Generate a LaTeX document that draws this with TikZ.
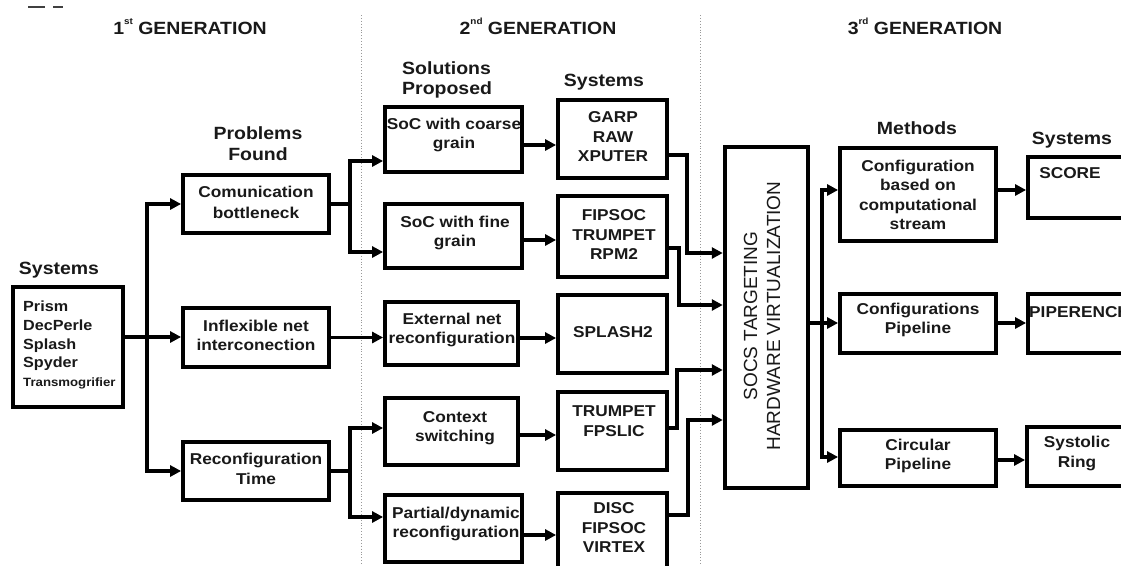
\documentclass[tikz,border=0pt]{standalone}
\usepackage{fontspec}
\setmainfont{Liberation Sans}[FakeStretch=1.1]
\newfontfamily\plainsans{Liberation Sans}
\usetikzlibrary{arrows.meta}

% box from its outer corners (x1,y1) (x2,y2), y measured downwards
\newcommand\boxnode[6][]{%
  \node[box,#1,minimum width={#5-#3},minimum height={#6-#4}] (#2)
    at ({(#3+#5)/2},{(#4+#6)/2}) {};}
\newcommand\supscr[1]{\raisebox{0.55em}{\fontsize{9}{9}\selectfont #1}}

\begin{document}
\begin{tikzpicture}[x=1pt,y=-1pt,
  box/.style={draw=black,fill=white,line width=3.8pt,inner sep=0pt},
  wire/.style={line width=3.3pt},
  conn/.style={wire,-{Triangle[length=11pt,width=11pt]}},
  boxtext/.style={font=\fontsize{15.7}{19.5}\selectfont\bfseries,align=center,inner sep=0pt,text=black!90},
  head/.style={font=\fontsize{17.7}{20.5}\selectfont\bfseries,align=center,inner sep=0pt,text=black!90},
  sep/.style={draw=gray!80,line width=0.9pt,dotted}]

\clip (0,0) rectangle (1121,565);
\fill[white] (0,0) rectangle (1121,565);

% small marks in the top left corner
\draw[line width=1.3pt,black!75] (28,7) -- (45,7) (53,7) -- (63,7);

% generation separators
\draw[sep] (361,15) -- (361,565);
\draw[sep] (700,15) -- (700,565);

% generation titles
\node[head,anchor=base] (gen1) at (190,34.5) {1\supscr{st} GENERATION};
\node[head,anchor=base] (gen2) at (538,34.5) {2\supscr{nd} GENERATION};
\node[head,anchor=base] (gen3) at (925,34) {3\supscr{rd} GENERATION};

% column headings
\node[head] (hsys1) at (59,270) {Systems};
\node[head] (hprob) at (258,143.5) {Problems\\Found};
\node[head,align=left,anchor=west] (hsol) at (402,80) {Solutions\\Proposed};
\node[head] (hsys2) at (604,82) {Systems};
\node[head] (hmeth) at (917,128) {Methods};
\node[head] (hsys3) at (1072,140) {Systems};

% boxes
\boxnode{sys}{13}{287}{123}{407}
\boxnode{comm}{183}{175}{329}{233}
\boxnode{infl}{183}{308}{329}{367}
\boxnode{reconf}{183}{442}{329}{500}
\boxnode{coarse}{385}{107}{522}{172}
\boxnode{fine}{385}{204}{522}{268}
\boxnode{ext}{385}{302}{518}{365}
\boxnode{ctx}{385}{398}{518}{465}
\boxnode{part}{385}{495}{522}{562}
\boxnode{garp}{558}{100}{667}{178}
\boxnode{fip}{558}{196}{667}{277}
\boxnode{spl}{558}{295}{667}{373}
\boxnode{tf}{558}{392}{667}{470}
\boxnode{disc}{558}{493}{667}{590}
\boxnode[line width=4.5pt]{socs}{725}{147}{808}{488}
\boxnode{cfg}{840}{148}{996}{241}
\boxnode{cpl}{840}{294}{996}{353}
\boxnode{circ}{840}{430}{996}{486}
\boxnode{score}{1028}{157}{1150}{218}
\boxnode{pip}{1028}{294}{1150}{353}
\boxnode{syst}{1027}{427}{1150}{486}

% box texts
\node[boxtext,align=left,anchor=west,font=\fontsize{14.7}{18.8}\selectfont\bfseries] (sys-t) at (23,345)
  {Prism\\DecPerle\\Splash\\Spyder\\{\fontsize{12}{14}\selectfont Transmogrifier}};
\node[boxtext] (comm-t) at (256,202.5) {Comunication\\[1.5pt]bottleneck};
\node[boxtext] (infl-t) at (256,335.5) {Inflexible net\\interconection};
\node[boxtext] (reconf-t) at (256,469) {Reconfiguration\\Time};
\node[boxtext] (coarse-t) at (454,135) {SoC with coarse\\grain};
\node[boxtext] (fine-t) at (455,233) {SoC with fine\\grain};
\node[boxtext] (ext-t) at (452,330) {External net\\reconfiguration};
\node[boxtext] (ctx-t) at (455,428) {Context\\switching};
\node[boxtext] (part-t) at (456,524) {Partial/dynamic\\reconfiguration};
\node[boxtext] (garp-t) at (613,137) {GARP\\RAW\\XPUTER};
\node[boxtext] (fip-t) at (614,235) {FIPSOC\\TRUMPET\\RPM2};
\node[boxtext] (spl-t) at (613,332) {SPLASH2};
\node[boxtext] (tf-t) at (614,421) {TRUMPET\\FPSLIC};
\node[boxtext] (disc-t) at (614,528) {DISC\\FIPSOC\\VIRTEX};
\node[rotate=90,align=center,inner sep=0pt,text=black!90,
      font=\plainsans\fontsize{19}{23}\selectfont] (socs-t) at (762,316)
  {SOCS TARGETING\\HARDWARE VIRTUALIZATION};
\node[boxtext] (cfg-t) at (918,195) {Configuration\\based on\\computational\\stream};
\node[boxtext] (cpl-t) at (918,320) {Configurations\\Pipeline};
\node[boxtext] (circ-t) at (918,456) {Circular\\Pipeline};
\node[boxtext] (score-t) at (1070,173) {SCORE};
\node[boxtext,anchor=west] (pip-t) at (1029,312) {PIPERENCH};
\node[boxtext] (syst-t) at (1077,453.5) {Systolic\\Ring};

% first generation: systems to problems
\coordinate (j1) at (147,337);
\draw[conn] (sys.east |- j1) -- (infl.west |- j1);
\draw[conn] (j1) |- (comm.west);
\draw[conn] (j1) |- (reconf.west);

% problems to proposed solutions
\coordinate (j2) at (350,204);
\draw[wire] (comm.east) -- (j2);
\draw[conn] (j2) |- (coarse.west |- 0,161);
\draw[conn] (j2) |- (fine.west |- 0,252);
\draw[conn] (infl.east) -- (ext.west |- infl.east);
\coordinate (j3) at (350,471);
\draw[wire] (reconf.east) -- (j3);
\draw[conn] (j3) |- (ctx.west |- 0,428);
\draw[conn] (j3) |- (part.west |- 0,517);

% solutions to systems
\draw[conn] (coarse.east |- 0,145) -- (garp.west |- 0,145);
\draw[conn] (fine.east |- 0,240) -- (fip.west |- 0,240);
\draw[conn] (ext.east |- 0,338) -- (spl.west |- 0,338);
\draw[conn] (ctx.east |- 0,435) -- (tf.west |- 0,435);
\draw[conn] (part.east |- 0,535) -- (disc.west |- 0,535);

% systems to the virtualization block
\draw[conn] (garp.east |- 0,155) -- (687,155) |- (socs.west |- 0,253);
\draw[conn] (fip.east |- 0,248) -- (679,248) |- (socs.west |- 0,305);
\draw[conn] (tf.east |- 0,428) -- (677,428) |- (socs.west |- 0,370);
\draw[conn] (disc.east |- 0,515) -- (688,515) |- (socs.west |- 0,420);

% third generation methods
\coordinate (j4) at (822,323);
\draw[conn] (socs.east |- j4) -- (cpl.west |- j4);
\draw[conn] (j4) |- (cfg.west |- 0,190);
\draw[conn] (j4) |- (circ.west |- 0,457);

% methods to systems
\draw[conn] (cfg.east |- 0,190) -- (score.west |- 0,190);
\draw[conn] (cpl.east |- 0,323) -- (pip.west |- 0,323);
\draw[conn] (circ.east |- 0,460) -- (syst.west |- 0,460);
\end{tikzpicture}
\end{document}
